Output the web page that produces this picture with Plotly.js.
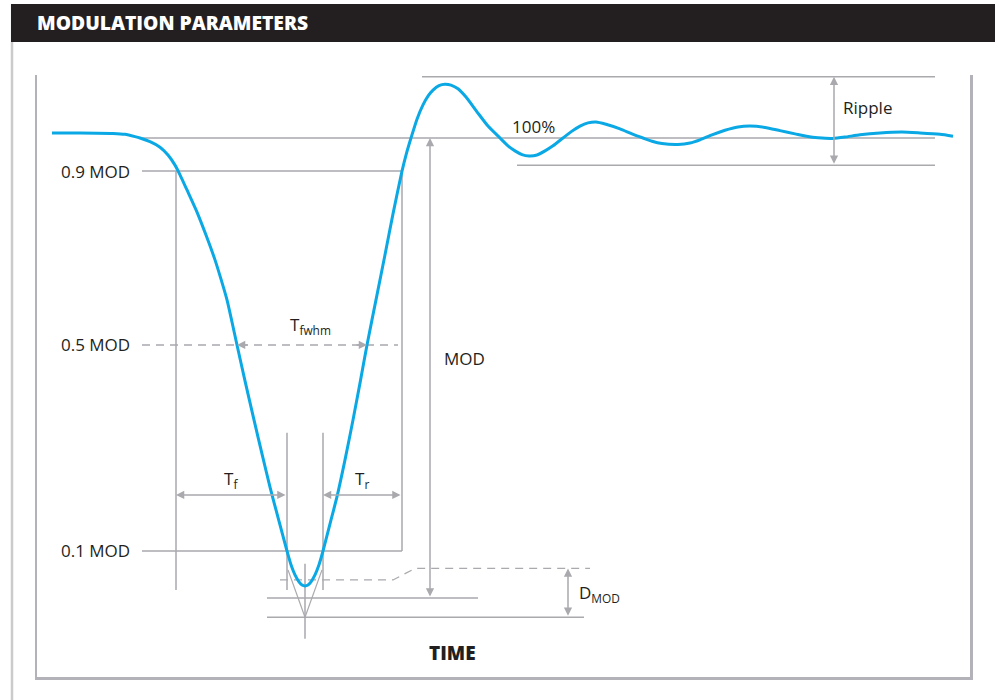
<!DOCTYPE html>
<html>
<head>
<meta charset="utf-8">
<script src="https://cdn.plot.ly/plotly-3.0.1.min.js"></script>
<style>html,body{margin:0;padding:0;background:#fff;}#chart{width:995px;height:700px;}</style>
</head>
<body>
<div id="chart"></div>
<script>
// ---- Data (schematic units: time, level in % of MOD) ----
const curveTime = [1.5, 4.3, 7.6, 8.8, 9.8, 10.3, 11.3, 12.3, 13.1, 13.8, 14.3, 15.0, 16.0, 16.9, 17.8, 18.4, 19.0, 19.5, 20.0, 20.8, 21.7, 22.5, 23.3, 24.2, 25.0, 25.4, 25.8, 26.2, 26.5, 26.8, 27.1, 27.4, 27.8, 28.2, 28.6, 29.3, 30.0, 30.8, 31.6, 32.3, 33.0, 34.0, 34.8, 35.6, 36.5, 36.9, 37.4, 38.0, 38.6, 39.1, 39.6, 40.2, 40.8, 41.4, 42.1, 42.9, 44.0, 45.1, 46.3, 47.1, 47.8, 48.5, 49.2, 50.0, 50.8, 51.6, 52.6, 53.5, 54.3, 55.1, 55.9, 56.9, 58.3, 59.5, 60.6, 61.5, 62.5, 64.1, 65.3, 66.3, 67.5, 68.8, 70.1, 71.3, 72.8, 74.3, 75.8, 77.4, 78.5, 79.6, 80.8, 82.3, 84.3, 86.5, 88.3, 90.3, 91.6];
const curveLevel = [101.1, 101.1, 101.0, 100.8, 100.3, 100.0, 99.2, 98.0, 96.3, 94.1, 92.0, 88.7, 83.9, 78.9, 73.5, 69.3, 64.8, 60.0, 55.0, 47.2, 38.7, 31.3, 24.1, 16.7, 10.2, 7.2, 5.0, 3.5, 2.8, 2.6, 2.8, 3.5, 5.0, 7.2, 10.2, 16.1, 22.0, 30.0, 38.7, 46.7, 55.0, 65.9, 74.6, 83.5, 92.8, 96.3, 100.0, 104.1, 107.2, 109.1, 110.4, 111.4, 111.7, 111.5, 110.7, 108.9, 105.7, 102.6, 100.0, 98.3, 97.2, 96.4, 96.1, 96.3, 97.2, 98.3, 100.0, 101.5, 102.6, 103.3, 103.5, 103.0, 102.0, 100.9, 100.0, 99.3, 98.8, 98.6, 98.9, 99.6, 100.7, 101.7, 102.4, 102.6, 102.3, 101.6, 100.9, 100.2, 100.0, 99.9, 100.2, 100.7, 101.1, 101.3, 101.1, 100.8, 100.4];

const levelLabels = ['0.9 MOD', '0.5 MOD', '0.1 MOD'];
const levelValues = [92.8, 55.0, 10.2];

// reference levels
const fullLevel = 100;
const rippleTop = 113.3;
const rippleBottom = 94.1;
const modZero = 0;
const dmodTop = 6.4;
const dmodLow = 3.9;
const dmodBottom = -4.2;

// reference times
const tLabelEnd = 9.5;
const tLineStart = 10.5;
const tF90 = 13.9;
const tFwhmStart = 20.0;
const tF10 = 25.0;
const tMin = 26.8;
const tR10 = 28.6;
const tFwhmEnd = 33.0;
const tR90 = 36.5;
const tModArrow = 39.3;
const tRippleTopStart = 38.5;
const tRippleBottomStart = 48.0;
const tRefEnd = 89.8;
const tRippleArrow = 79.7;
const tDmodArrow = 53.1;

// dashed D_MOD reference path
const dmodPathTime = [24.3, 35.6, 37.8, 55.3];
const dmodPathLevel = [dmodLow, dmodLow, dmodTop, dmodTop];

// ---- Styles ----
const gray = '#a9a9ae';
const txt = '#231f20';
const fontFam = '"Open Sans", "DejaVu Sans", sans-serif';

function hline(y, x0, x1, dash) {
  return {type: 'line', xref: 'x', yref: 'y', x0: x0, x1: x1, y0: y, y1: y, layer: 'below',
    line: {color: gray, width: 1.5, dash: dash || 'solid'}};
}
function vline(x, y0, y1) {
  return {type: 'line', xref: 'x', yref: 'y', x0: x, x1: x, y0: y0, y1: y1, layer: 'below',
    line: {color: gray, width: 1.5}};
}
function seg(x0, y0, x1, y1) {
  return {type: 'line', xref: 'x', yref: 'y', x0: x0, x1: x1, y0: y0, y1: y1, layer: 'below',
    line: {color: gray, width: 1.2}};
}

const shapes = [
  // header bar
  {type: 'rect', xref: 'paper', yref: 'paper', x0: -0.0279, x1: 1.0268, y0: 1.0548, y1: 1.1179,
   fillcolor: '#231f20', line: {width: 0}},
  // outer left border
  {type: 'line', xref: 'paper', yref: 'paper', x0: -0.0268, x1: -0.0268, y0: 1.0548, y1: -0.0382,
   line: {color: '#cbcbcb', width: 2.5}},
  // level lines
  hline(levelValues[0], tLineStart, tR90),
  hline(levelValues[1], tLineStart, tR90 - 0.4, '8px,6px'),
  hline(levelValues[2], tLineStart, tR90),
  hline(fullLevel, tLineStart, tRefEnd),
  hline(rippleTop, tRippleTopStart, tRefEnd),
  hline(rippleBottom, tRippleBottomStart, tRefEnd),
  hline(modZero, 23.0, 44.1),
  hline(dmodBottom, 23.0, 54.7),
  // verticals
  vline(tF90, levelValues[0], 1.7),
  vline(tR90, levelValues[0], levelValues[2]),
  vline(tF10, 35.9, 1.7),
  vline(tR10, 35.9, 1.7),
  vline(tMin, 7.4, -8.9),
  // V to D_MOD bottom
  seg(tF10 + 0.1, 6.1, tMin, dmodBottom),
  seg(tR10 - 0.1, 6.1, tMin, dmodBottom)
];

function arrow(x, y, ax, ay, both) {
  const a = {x: x, y: y, ax: ax, ay: ay, xref: 'x', yref: 'y', axref: 'x', ayref: 'y',
    text: '', showarrow: true, arrowhead: 2, arrowsize: 1.1, arrowwidth: 1.5, arrowcolor: gray,
    standoff: 0, startstandoff: 0};
  if (both) { a.arrowside = 'end+start'; a.startarrowhead = 2; a.startarrowsize = 1.1; }
  return a;
}
function label(x, y, text, xanchor, size, weight) {
  return {x: x, y: y, xref: 'x', yref: 'y', text: text,
    showarrow: false, xanchor: xanchor, yanchor: 'middle',
    font: {family: fontFam, size: size || 16, color: txt, weight: weight || 'normal'}};
}

const annotations = [
  // header text
  {x: -0.0021, y: 1.0864, xref: 'paper', yref: 'paper', xanchor: 'left', yanchor: 'middle',
   text: 'MODULATION PARAMETERS', showarrow: false,
   font: {family: fontFam, size: 19.3, color: '#ffffff', weight: 800}},
  // arrows
  arrow(tModArrow, fullLevel, tModArrow, modZero, true),
  arrow(tRippleArrow, rippleTop, tRippleArrow, rippleBottom, true),
  arrow(tDmodArrow, dmodTop, tDmodArrow, dmodBottom, true),
  arrow(tF90, 22.4, tF10, 22.4, true),
  arrow(tR10, 22.4, tR90, 22.4, true),
  arrow(tFwhmStart, levelValues[1], tFwhmStart + 1.2, levelValues[1], false),
  arrow(tFwhmEnd, levelValues[1], tFwhmEnd - 1.2, levelValues[1], false),
  // labels
  label(27.3, 59.3, 'T<sub>fwhm</sub>', 'center', 17),
  label(19.4, 25.7, 'T<sub>f</sub>', 'center', 17),
  label(32.5, 25.7, 'T<sub>r</sub>', 'center', 17),
  label(40.5, 52.0, 'MOD', 'left', 17),
  label(80.4, 106.6, 'Ripple', 'left', 17),
  label(47.3, 102.4, '100%', 'left', 17),
  label(54.0, 0.9, 'D<sub>MOD</sub>', 'left', 17),
  label(41.5, -12.0, 'TIME', 'center', 19, 800)
];
levelLabels.forEach(function (t, i) {
  annotations.push(label(tLabelEnd, levelValues[i], t, 'right', 17));
});

const traces = [
  {x: dmodPathTime, y: dmodPathLevel, type: 'scatter', mode: 'lines',
   line: {color: gray, width: 1.3, dash: '8px,6px'}, hoverinfo: 'skip'},
  {x: curveTime, y: curveLevel, type: 'scatter', mode: 'lines',
   line: {color: '#0aa8e4', width: 3, shape: 'spline', smoothing: 0.6}, hoverinfo: 'skip'}
];

const layout = {
  width: 995, height: 700,
  margin: {l: 37, r: 25, t: 75, b: 23, pad: 0},
  paper_bgcolor: '#ffffff', plot_bgcolor: '#ffffff',
  showlegend: false,
  xaxis: {range: [0, 93.3], showgrid: false, zeroline: false, showticklabels: false, ticks: '',
          showline: true, linecolor: '#b2b2b8', linewidth: 2.5, fixedrange: true},
  yaxis: {range: [-17.2, 113.7], showgrid: false, zeroline: false, showticklabels: false, ticks: '',
          showline: true, mirror: true, linecolor: '#b2b2b8', linewidth: 2.5, fixedrange: true},
  shapes: shapes,
  annotations: annotations
};

Plotly.newPlot('chart', traces, layout, {displayModeBar: false, staticPlot: true});
</script>
</body>
</html>
